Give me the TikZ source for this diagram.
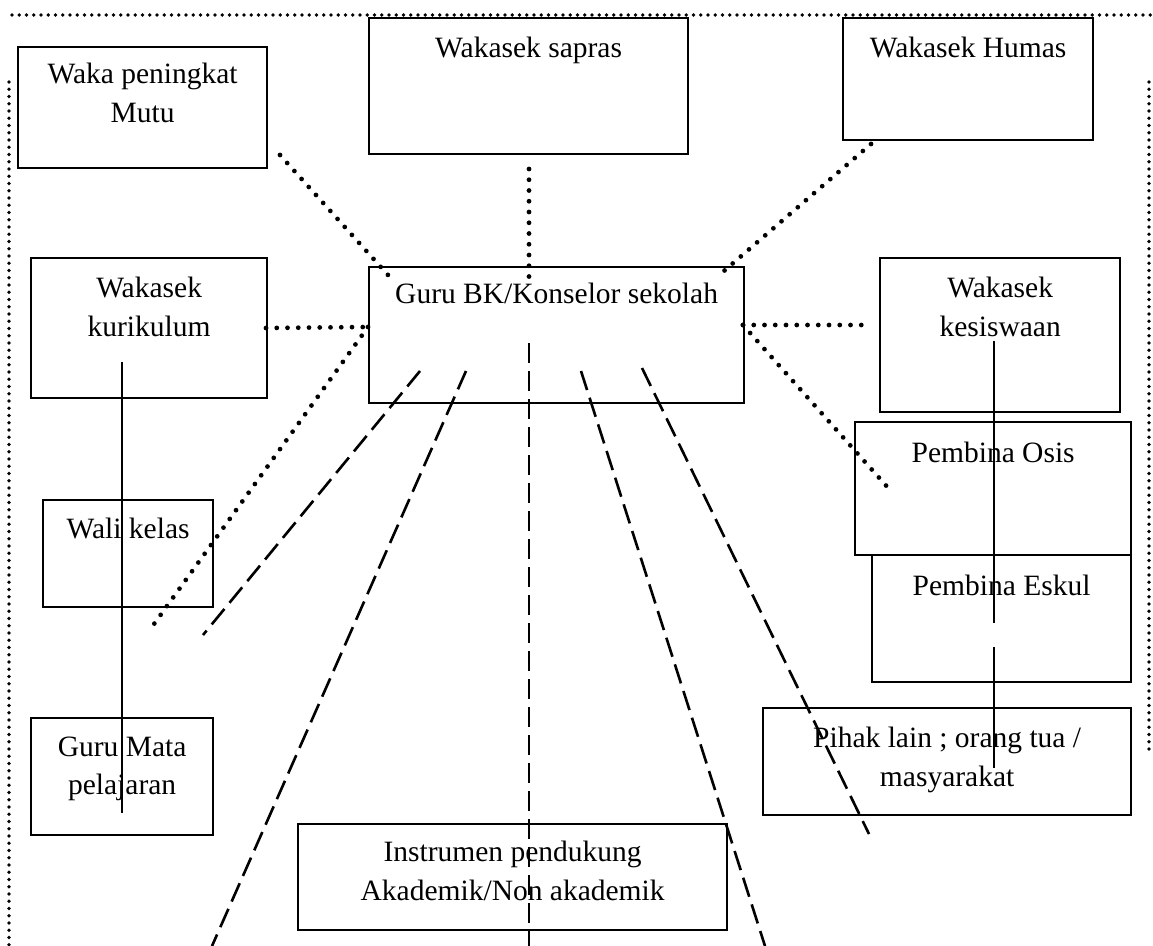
\documentclass[tikz,border=0pt]{standalone}
\usepackage{fontspec}
\setmainfont{Liberation Serif}

\tikzset{
  kotak/.style={draw, line width=0.9pt, inner sep=0pt, anchor=north west},
  teks/.style={inner sep=0pt, anchor=north, align=center, font=\fontsize{11.8}{15.4}\selectfont},
  titik/.style={line width=1.9pt, line cap=round, dash pattern=on 0pt off 4.3pt},
  bingkai/.style={line width=1.5pt, line cap=round, dash pattern=on 0pt off 2.9pt},
  putus/.style={line width=1.05pt, dash pattern=on 8pt off 3.2pt},
  garis/.style={line width=0.85pt}
}

\begin{document}
\begin{tikzpicture}[x=0.4pt, y=-0.4pt]
  \useasboundingbox (0,0) rectangle (1153,946);

  % kotak
  \node [kotak, minimum width=99.6pt, minimum height=48.4pt] (mutu) at (17,46) {};
  \node [kotak, minimum width=127.6pt, minimum height=54.4pt] (sapras) at (368,17) {};
  \node [kotak, minimum width=100pt, minimum height=48.8pt] (humas) at (842,17) {};
  \node [kotak, minimum width=94.4pt, minimum height=56pt] (kurikulum) at (30,257) {};
  \node [kotak, minimum width=150pt, minimum height=54.4pt] (gurubk) at (368,266) {};
  \node [kotak, minimum width=96pt, minimum height=61.6pt] (kesiswaan) at (879,257) {};
  \node [kotak, minimum width=110.4pt, minimum height=53.2pt] (osis) at (854,421) {};
  \node [kotak, minimum width=103.6pt, minimum height=50.8pt] (eskul) at (871,554) {};
  \node [kotak, minimum width=68pt, minimum height=42.8pt] (walikelas) at (42,499) {};
  \node [kotak, minimum width=72.8pt, minimum height=46.8pt] (gurumapel) at (30,717) {};
  \node [kotak, minimum width=147.2pt, minimum height=42.8pt] (pihaklain) at (762,707) {};
  \node [kotak, minimum width=171.6pt, minimum height=42.4pt] (instrumen) at (297,823) {};

  % tulisan
  \node [teks] (mutu-t) at ([yshift=-6.8pt]mutu.north) {Waka peningkat\\Mutu};
  \node [teks] (sapras-t) at ([yshift=-8pt]sapras.north) {Wakasek sapras};
  \node [teks] (humas-t) at ([yshift=-8pt]humas.north) {Wakasek Humas};
  \node [teks] (kurikulum-t) at ([yshift=-8pt]kurikulum.north) {Wakasek\\kurikulum};
  \node [teks] (gurubk-t) at ([yshift=-6.8pt]gurubk.north) {Guru BK/Konselor sekolah};
  \node [teks] (kesiswaan-t) at ([yshift=-8pt]kesiswaan.north) {Wakasek\\kesiswaan};
  \node [teks] (osis-t) at ([yshift=-8.4pt]osis.north) {Pembina Osis};
  \node [teks] (eskul-t) at ([yshift=-8.4pt]eskul.north) {Pembina Eskul};
  \node [teks] (walikelas-t) at ([yshift=-7.6pt]walikelas.north) {Wali kelas};
  \node [teks] (gurumapel-t) at ([yshift=-7.6pt]gurumapel.north) {Guru Mata\\pelajaran};
  \node [teks] (pihaklain-t) at ([yshift=-8pt]pihaklain.north) {Pihak lain ; orang tua /\\masyarakat};
  \node [teks] (instrumen-t) at ([yshift=-7.2pt]instrumen.north) {Instrumen pendukung\\Akademik/Non akademik};

  % ujung garis
  \coordinate (mutu-a) at (280,155);
  \coordinate (mutu-b) at (388,275);
  \coordinate (sapras-a) at (529,169);
  \coordinate (sapras-b) at (529,277);
  \coordinate (humas-a) at (871,144);
  \coordinate (humas-b) at (717,277);
  \coordinate (kiri-a) at (266,328);
  \coordinate (kiri-b) at (368,327);
  \coordinate (wali-b) at (149,631);
  \coordinate (kanan-a) at (743,325);
  \coordinate (kanan-b) at (872,325);
  \coordinate (osis-b) at (890,490);
  \coordinate (p1-a) at (420,371);
  \coordinate (p1-b) at (203,635);
  \coordinate (p2-a) at (466,371);
  \coordinate (p2-b) at (212,946);
  \coordinate (p3-a) at (529,343);
  \coordinate (p3-b) at (529,946);
  \coordinate (p4-a) at (581,371);
  \coordinate (p4-b) at (765,946);
  \coordinate (p5-a) at (642,368);
  \coordinate (p5-b) at (869,834);
  \coordinate (kur-a) at (122,362);
  \coordinate (kur-b) at (122,813);
  \coordinate (kes-a) at (994,341);
  \coordinate (kes-b) at (994,623);
  \coordinate (kes-c) at (994,647);
  \coordinate (kes-d) at (994,768);

  % bingkai
  \draw [bingkai] (12,15)--(1153,15);
  \draw [bingkai] (9,82)--(9,946);
  \draw [bingkai] (1149,82)--(1149,755);

  \draw [titik] (mutu-a)--(mutu-b);
  \draw [titik] (sapras-a)--(sapras-b);
  \draw [titik] (humas-a)--(humas-b);
  \draw [titik] (kiri-a)--(kiri-b);
  \draw [titik] (kiri-b)--(wali-b);
  \draw [titik] (kanan-a)--(kanan-b);
  \draw [titik] (kanan-a)--(osis-b);

  \draw [putus] (p1-a)--(p1-b);
  \draw [putus] (p2-a)--(p2-b);
  \draw [putus] (p3-a)--(p3-b);
  \draw [putus] (p4-a)--(p4-b);
  \draw [putus] (p5-a)--(p5-b);

  \draw [garis] (kur-a)--(kur-b);
  \draw [garis] (kes-a)--(kes-b);
  \draw [garis] (kes-c)--(kes-d);
\end{tikzpicture}
\end{document}
